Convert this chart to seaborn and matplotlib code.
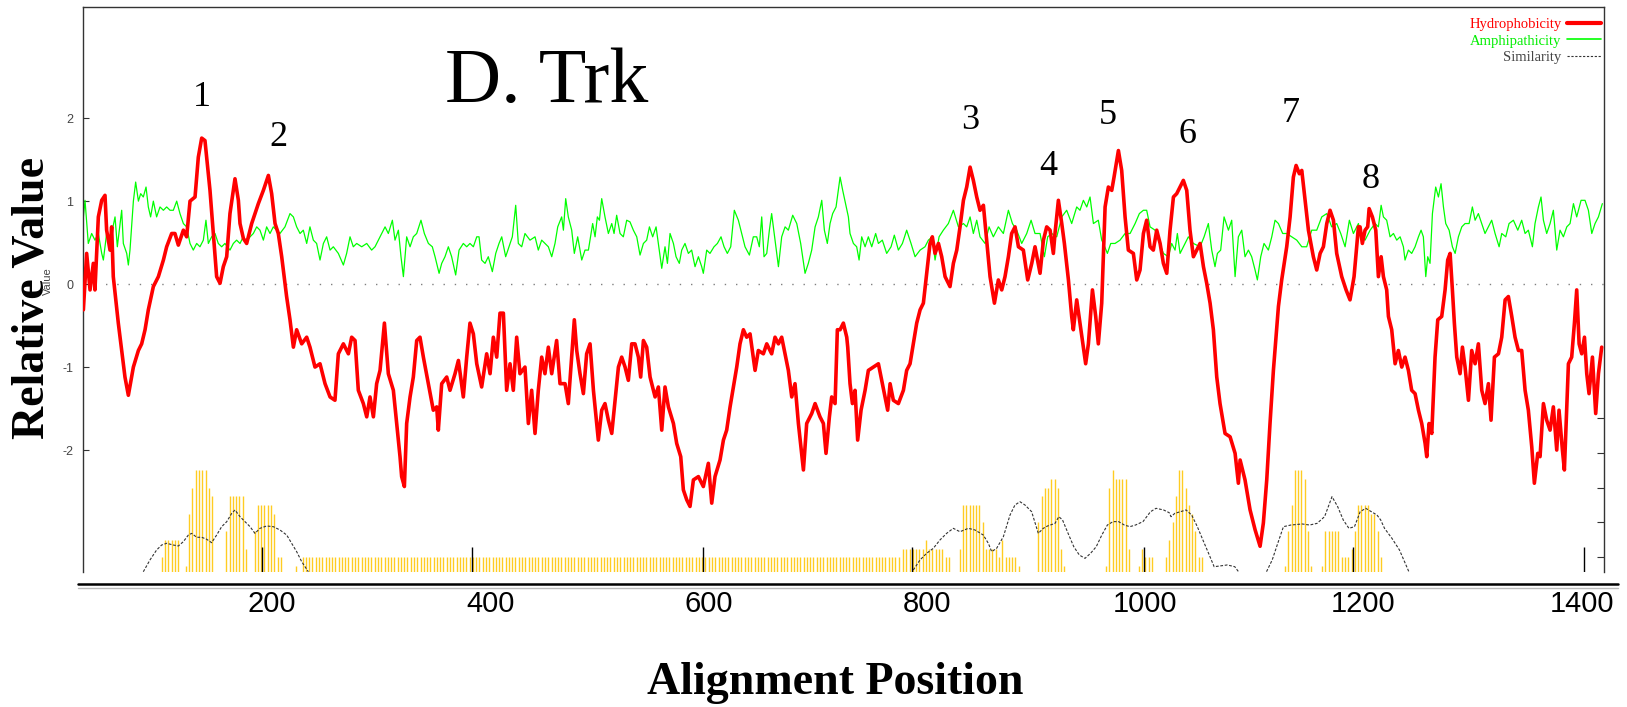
import numpy as np
import pandas as pd
import matplotlib
matplotlib.use("Agg")
import matplotlib.pyplot as plt
import seaborn as sns
from matplotlib.lines import Line2D

sns.set_theme(style="white")
plt.rcParams['font.family'] = ['Liberation Serif', 'DejaVu Serif']
plt.rcParams['axes.unicode_minus'] = False

# ---------------- data ----------------
hyd_x = [27.1, 30.1, 33.2, 36.2, 37.7, 40.8, 43.9, 46.9, 48.4, 51.5, 53.0, 54.5, 59.1, 62.2, 65.2, 68.3, 72.9, 77.5, 80.5, 83.6,
         86.6, 91.2, 95.8, 100.4, 103.4, 108.0, 111.0, 114.1, 118.7, 121.7, 124.8, 129.4, 132.4, 135.5, 138.5, 143.1, 146.2, 149.2, 152.3, 155.3,
         158.4, 161.4, 166.0, 169.1, 170.6, 173.7, 176.7, 181.3, 184.3, 187.4, 192.0, 196.6, 199.6, 202.7, 205.7, 208.8, 213.3, 216.4, 219.5, 222.5,
         227.1, 231.7, 234.7, 239.3, 243.9, 248.5, 253.1, 257.6,
         260.7, 265.3, 269.9, 272.9, 276.0, 279.0, 283.6, 286.7, 289.7, 292.8, 295.8, 298.9, 302.9, 306.5, 311.1, 314.2, 317.2, 318.7, 321.2, 323.3,
         326.4, 329.4, 332.5, 335.5, 338.6, 343.2, 347.7, 350.8, 352.3, 355.4, 360.0, 363.0, 367.6, 370.7, 375.2, 378.3, 381.3, 384.4, 387.5, 392.0,
         396.6, 399.7, 402.7, 405.8, 408.8, 411.9, 414.9, 418.0, 421.0, 424.1, 427.1, 431.7, 434.8, 437.8, 440.9, 443.9, 447.0, 450.0, 453.1, 456.2,
         460.7, 463.8, 468.4, 471.4, 474.5, 476.9, 479.1, 482.1, 485.2, 488.2, 491.3,
         494.4, 496.8, 498.9, 502.0, 505.0, 508.1, 511.2, 514.2, 517.3, 520.3, 523.4, 526.4, 529.5, 532.5, 535.6, 537.7, 540.2, 543.2, 546.3, 550.9,
         553.9, 557.0, 560.0, 563.1, 567.7, 570.7, 574.4, 576.8, 579.9, 582.9, 586.0, 590.6, 595.1, 599.7, 602.8, 605.8, 610.4, 613.5, 616.5, 619.6,
         622.6, 625.7, 628.7, 631.8, 634.8, 637.9, 642.5, 645.5, 650.1, 653.2, 657.7, 660.8, 663.9, 666.9, 670.0, 673.0, 676.1, 679.1, 682.2, 686.8,
         689.8, 694.4, 697.5, 702.0, 705.1, 707.5, 710.6, 712.7, 715.8, 717.9, 720.4, 723.4, 726.5,
         727.4, 729.5, 731.7, 734.1, 736.5, 739.6, 743.3, 746.3, 750.9, 755.5, 759.1, 764.0, 766.2, 769.2, 773.8, 778.4, 781.4, 784.5, 787.5, 790.6,
         793.7, 796.7, 799.8, 802.8, 804.9, 807.4, 810.5, 813.5, 816.6, 821.1, 824.2, 827.3, 830.3, 833.4, 836.4, 839.5, 842.5, 845.6, 848.6, 851.7,
         854.7, 857.8, 861.8, 865.4, 868.5, 871.5, 874.6, 877.6, 880.7, 883.8, 888.3, 892.3, 896.0, 899.0, 903.6, 906.7, 909.7, 912.8, 915.8, 917.3,
         920.4, 923.5, 925.9, 929.6, 932.6, 934.1, 937.2, 940.2, 943.3, 945.4, 947.9, 951.6, 954.6, 957.0, 960.1,
         963.2, 966.2, 969.3, 971.4, 975.4, 978.4, 981.5, 984.5, 989.1, 992.2, 995.2, 998.3, 1001.3, 1004.4, 1007.4, 1010.5, 1013.6, 1016.6, 1019.7, 1022.7,
         1025.8, 1028.8, 1031.9, 1034.9, 1038.0, 1041.0, 1044.1, 1047.2, 1050.2, 1053.3, 1056.3, 1059.4, 1062.4, 1065.5, 1068.5, 1073.1, 1077.7, 1082.3, 1085.3, 1086.9,
         1091.4, 1096.0, 1100.6, 1105.2, 1108.2, 1111.3, 1114.3, 1117.4, 1122.0, 1125.0, 1129.6, 1132.7, 1135.7, 1138.2, 1141.2, 1143.4, 1146.4, 1149.5, 1154.0, 1157.1,
         1160.2, 1163.2, 1166.3, 1169.3, 1172.4, 1175.4, 1180.0, 1184.0, 1187.6, 1191.3, 1195.3,
         1196.8, 1198.9, 1201.4, 1203.8, 1205.1, 1208.1, 1211.2, 1213.6, 1216.1, 1218.2, 1221.2, 1222.8, 1225.8, 1228.9, 1231.9, 1235.0, 1238.0, 1241.1, 1244.1, 1247.2,
         1250.3, 1253.3, 1256.4, 1257.9, 1260.0, 1262.5, 1265.5, 1268.0, 1271.6, 1274.7, 1277.1, 1279.3, 1281.4, 1283.2, 1285.4, 1288.4, 1290.6, 1293.0, 1296.1, 1299.1,
         1302.2, 1305.2, 1308.3, 1311.3, 1314.4, 1316.8, 1319.9, 1323.6, 1326.6, 1329.7, 1332.7, 1335.8, 1338.8, 1341.9, 1344.9, 1348.0, 1351.0, 1354.1, 1356.5, 1359.6,
         1361.7, 1364.8, 1367.8, 1370.9, 1373.9, 1377.0, 1379.1, 1382.2, 1384.0, 1387.7, 1390.7, 1393.2, 1395.3, 1397.5, 1399.9, 1402.4, 1404.5, 1406.6, 1409.7, 1412.7,
         1415.2, 1418.2]
hyd_y = [-0.31, 0.37, -0.07, 0.25, -0.07, 0.81, 1.01, 1.07, 0.65, 0.41, 0.69, 0.09, -0.47, -0.80, -1.12, -1.34, -1.00, -0.80, -0.72, -0.55,
         -0.31, -0.03, 0.09, 0.29, 0.45, 0.61, 0.61, 0.47, 0.65, 0.57, 1.00, 1.05, 1.53, 1.76, 1.73, 1.13, 0.61, 0.09, 0.01, 0.21,
         0.33, 0.85, 1.27, 1.01, 0.73, 0.55, 0.49, 0.73, 0.85, 0.97, 1.13, 1.31, 1.09, 0.73, 0.61, 0.33, -0.15, -0.43, -0.76, -0.55,
         -0.72, -0.64, -0.76, -1.00, -0.96, -1.20, -1.36, -1.40,
         -0.84, -0.72, -0.84, -0.64, -0.68, -1.28, -1.44, -1.60, -1.36, -1.60, -1.20, -1.04, -0.47, -1.08, -1.28, -1.68, -2.08, -2.32, -2.44, -1.68,
         -1.36, -1.12, -0.68, -0.64, -0.88, -1.20, -1.52, -1.48, -1.76, -1.20, -1.12, -1.28, -1.08, -0.92, -1.36, -0.88, -0.47, -0.60, -0.96, -1.24,
         -0.84, -1.08, -0.64, -0.88, -0.35, -0.35, -1.28, -0.96, -1.28, -0.64, -1.08, -1.00, -1.68, -1.28, -1.80, -1.28, -0.88, -1.08, -0.76, -1.08,
         -0.68, -1.20, -1.20, -1.44, -0.88, -0.43, -0.80, -1.08, -1.32, -0.84, -0.72,
         -1.28, -1.60, -1.88, -1.52, -1.44, -1.64, -1.80, -1.40, -1.00, -0.88, -1.00, -1.16, -0.72, -0.72, -0.88, -1.12, -0.68, -0.76, -1.12, -1.36,
         -1.24, -1.76, -1.24, -1.48, -1.68, -1.92, -2.08, -2.48, -2.60, -2.68, -2.36, -2.32, -2.44, -2.16, -2.64, -2.32, -2.12, -1.88, -1.76, -1.48,
         -1.24, -1.00, -0.72, -0.55, -0.64, -0.60, -1.04, -0.80, -0.84, -0.72, -0.84, -0.64, -0.72, -0.64, -0.84, -1.04, -1.36, -1.20, -1.68, -2.24,
         -1.68, -1.56, -1.44, -1.60, -1.68, -2.04, -1.60, -1.36, -1.44, -0.55, -0.55, -0.47, -0.64,
         -0.76, -1.20, -1.44, -1.28, -1.88, -1.52, -1.28, -1.04, -1.00, -0.96, -1.20, -1.52, -1.20, -1.40, -1.44, -1.28, -1.04, -0.96, -0.72, -0.47,
         -0.31, -0.23, 0.13, 0.49, 0.57, 0.37, 0.49, 0.33, 0.09, -0.03, 0.25, 0.41, 0.69, 1.01, 1.17, 1.41, 1.25, 1.05, 0.89, 0.95,
         0.53, 0.09, -0.23, 0.05, -0.07, 0.09, 0.33, 0.61, 0.69, 0.45, 0.41, 0.05, 0.25, 0.45, 0.13, 0.53, 0.69, 0.65, 0.37, 0.61,
         1.01, 0.73, 0.49, 0.05, -0.39, -0.55, -0.19, -0.47, -0.76, -0.96, -0.72, -0.07, -0.39, -0.72, -0.23,
         0.93, 1.17, 1.13, 1.29, 1.61, 1.37, 0.81, 0.41, 0.37, 0.05, 0.17, 0.61, 0.77, 0.45, 0.41, 0.65, 0.49, 0.25, 0.13, 0.65,
         1.05, 1.09, 1.17, 1.25, 1.13, 0.65, 0.33, 0.41, 0.49, 0.21, 0.01, -0.23, -0.55, -1.12, -1.44, -1.80, -1.84, -2.04, -2.40, -2.12,
         -2.36, -2.72, -2.96, -3.16, -2.88, -2.36, -1.68, -1.04, -0.27, 0.05, 0.45, 0.81, 1.29, 1.43, 1.33, 1.37, 1.01, 0.65, 0.33, 0.17,
         0.37, 0.45, 0.73, 0.89, 0.77, 0.37, 0.09, -0.07, -0.19, 0.09, 0.69,
         0.69, 0.49, 0.65, 0.69, 0.91, 0.81, 0.65, 0.09, 0.33, 0.09, -0.07, -0.39, -0.55, -0.96, -0.80, -1.00, -0.88, -1.04, -1.28, -1.32,
         -1.52, -1.68, -1.92, -2.08, -1.68, -1.80, -0.88, -0.43, -0.39, -0.07, 0.29, 0.37, -0.07, -0.47, -0.88, -1.08, -0.76, -1.00, -1.40, -0.80,
         -0.96, -0.72, -1.28, -1.44, -1.20, -1.64, -0.88, -0.84, -0.64, -0.19, -0.15, -0.39, -0.64, -0.80, -0.80, -1.28, -1.52, -1.96, -2.40, -2.04,
         -2.08, -1.44, -1.64, -1.76, -1.48, -2.00, -1.52, -2.00, -2.24, -0.96, -0.88, -0.47, -0.07, -0.72, -0.84, -0.64, -1.08, -1.32, -0.88, -1.56,
         -1.08, -0.76]

amp_x = [27.1, 28.6, 31.6, 34.7, 37.7, 40.8, 43.9, 45.4, 48.4, 51.5, 53.0, 56.1, 58.2, 60.0, 62.2, 63.7, 66.8, 68.3, 69.8, 72.9,
         75.0, 77.5, 79.6, 82.0, 84.5, 86.6, 88.7, 91.2, 94.2, 97.3, 100.4, 103.4, 106.5, 109.5, 112.6, 115.6, 118.7, 121.7, 124.8, 127.8,
         130.9, 133.9, 137.0, 139.4, 141.6, 144.6, 147.7, 150.7, 153.8, 156.8, 161.4, 164.5, 167.5, 170.6, 173.6, 176.7, 179.8, 182.8, 185.9, 188.9,
         192.0, 195.0, 198.1, 201.1, 204.2, 207.2, 211.8, 216.4, 219.5, 222.5, 225.6, 228.6, 231.7, 234.7, 237.8, 240.8, 243.9, 247.0, 250.0, 253.1,
         256.1,
         260.7, 265.3, 268.3, 271.4, 274.4, 277.5, 282.1, 286.7, 291.2, 294.3, 298.9, 303.5, 306.5, 310.2, 312.6, 315.7, 318.1, 320.3, 323.3, 326.4,
         329.4, 332.5, 336.4, 339.5, 343.2, 346.8, 349.3, 353.0, 355.4, 358.4, 361.5, 364.5, 368.2, 371.3, 375.2, 378.3, 381.3, 384.4, 387.5, 389.6,
         392.0, 395.1, 398.1, 401.8, 404.9, 407.9, 410.4, 414.0, 417.1, 420.1, 423.2, 425.6, 428.7, 431.7, 436.3, 440.9, 443.9, 447.0, 450.1, 453.1,
         456.2, 459.2, 461.7, 465.3, 466.9, 469.0, 471.4, 474.5, 476.9, 480.0, 483.7, 486.7, 489.8, 492.8,
         493.7, 495.9, 498.0, 499.9, 502.0, 505.0, 508.1, 511.2, 513.3, 515.7, 518.8, 521.8, 524.9, 527.9, 531.0, 534.1, 537.1, 540.2, 543.2, 545.7,
         548.7, 551.8, 553.9, 557.0, 560.0, 562.2, 564.6, 567.7, 570.1, 573.1, 575.3, 578.3, 581.4, 584.4, 587.5, 590.6, 593.6, 595.1, 598.2, 601.2,
         604.9, 608.0, 611.3, 614.1, 617.1, 620.2, 623.5, 627.2, 630.3, 633.3, 637.3, 640.9, 644.0, 646.4, 648.6, 650.7, 653.2, 655.6, 657.7, 660.8,
         663.9, 666.9, 670.0, 673.0, 677.0, 680.7, 684.3, 688.3, 691.3, 694.4, 697.5, 700.5, 703.6, 706.0, 708.7, 711.2, 713.6, 716.7, 718.8, 720.4,
         722.8, 724.9, 728.0,
         729.5, 732.6, 735.6, 737.8, 740.2, 743.3, 746.3, 749.4, 753.0, 755.5, 759.1, 763.1, 767.1, 770.1, 773.8, 777.5, 781.4, 785.4, 789.1, 793.7,
         798.2, 801.3, 804.9, 807.4, 811.1, 815.0, 819.6, 824.2, 828.8, 833.4, 836.4, 839.5, 842.5, 845.6, 848.6, 853.2, 856.9, 860.8, 865.4, 870.0,
         874.6, 878.3, 882.2, 886.8, 891.4, 895.4, 899.0, 903.6, 907.6, 910.6, 914.3, 918.9, 923.5, 928.0, 932.6, 937.2, 940.2, 943.3, 946.4, 949.4,
         952.5, 957.0, 960.1,
         961.6, 965.3, 968.4, 972.3, 976.9, 981.5, 986.1, 990.7, 994.6, 998.3, 1001.3, 1004.4, 1009.0, 1012.0, 1016.6, 1021.2, 1024.2, 1027.3, 1029.4, 1031.9,
         1036.5, 1039.5, 1044.1, 1050.2, 1053.9, 1057.8, 1060.9, 1063.9, 1066.1, 1069.1, 1072.2, 1076.2, 1079.2, 1082.3, 1085.3, 1088.4, 1091.4, 1094.5, 1097.5, 1100.6,
         1102.7, 1105.8, 1108.8, 1112.8, 1115.9, 1118.9, 1122.0, 1125.9, 1129.6, 1134.2, 1138.8, 1143.4, 1147.9, 1152.5, 1157.1, 1161.7, 1166.3, 1170.8, 1175.4, 1179.1,
         1183.1, 1187.0, 1190.7, 1195.3,
         1196.8, 1201.4, 1206.0, 1210.6, 1213.6, 1216.1, 1218.2, 1221.2, 1224.3, 1227.4, 1230.4, 1233.5, 1236.5, 1238.0, 1241.1, 1244.1, 1247.2, 1250.3, 1252.7, 1254.8,
         1257.0, 1258.8, 1260.9, 1263.1, 1266.1, 1268.6, 1271.0, 1273.2, 1275.3, 1278.4, 1281.4, 1283.9, 1286.9, 1290.0, 1293.0, 1296.7, 1299.7, 1302.2, 1305.2, 1308.3,
         1311.3, 1314.4, 1317.4, 1320.5, 1324.2, 1326.6, 1330.3, 1333.3, 1337.3, 1341.3, 1344.9, 1348.0, 1351.0, 1354.7, 1357.1, 1360.2, 1362.6, 1364.8, 1367.8, 1370.9,
         1373.9, 1377.0, 1380.0, 1383.1, 1386.2, 1389.2, 1392.3, 1395.3, 1399.3, 1402.9, 1406.0, 1409.1, 1412.1, 1415.2, 1418.8]
amp_y = [0.81, 1.01, 0.49, 0.61, 0.53, 0.61, 0.37, 0.29, 0.61, 0.57, 0.61, 0.81, 0.45, 0.65, 0.89, 0.49, 0.37, 0.23, 0.41, 1.00,
         1.23, 1.00, 1.09, 1.05, 1.17, 0.93, 0.81, 1.00, 0.81, 0.93, 0.89, 0.93, 0.89, 0.89, 1.00, 0.85, 0.73, 0.69, 0.49, 0.41,
         0.49, 0.45, 0.53, 0.77, 0.49, 0.57, 0.61, 0.49, 0.45, 0.49, 0.41, 0.49, 0.53, 0.49, 0.57, 0.51, 0.57, 0.61, 0.69, 0.65,
         0.53, 0.69, 0.61, 0.69, 0.65, 0.61, 0.69, 0.85, 0.81, 0.69, 0.61, 0.65, 0.49, 0.69, 0.53, 0.49, 0.29, 0.49, 0.57, 0.41,
         0.45,
         0.37, 0.23, 0.37, 0.57, 0.45, 0.49, 0.45, 0.49, 0.41, 0.45, 0.57, 0.69, 0.61, 0.77, 0.53, 0.65, 0.33, 0.09, 0.57, 0.45,
         0.57, 0.61, 0.77, 0.61, 0.49, 0.45, 0.33, 0.13, 0.25, 0.33, 0.45, 0.33, 0.11, 0.41, 0.49, 0.45, 0.49, 0.45, 0.57, 0.57,
         0.29, 0.25, 0.33, 0.15, 0.37, 0.49, 0.57, 0.33, 0.45, 0.57, 0.95, 0.49, 0.45, 0.61, 0.53, 0.57, 0.41, 0.53, 0.49, 0.45,
         0.33, 0.49, 0.69, 0.81, 0.65, 1.03, 0.81, 0.65, 0.37, 0.57, 0.29, 0.41, 0.41, 0.65,
         0.73, 0.57, 0.81, 0.77, 1.03, 0.81, 0.61, 0.73, 0.61, 0.83, 0.61, 0.57, 0.77, 0.75, 0.65, 0.57, 0.35, 0.49, 0.53, 0.69,
         0.57, 0.69, 0.49, 0.19, 0.45, 0.25, 0.61, 0.49, 0.33, 0.25, 0.41, 0.49, 0.37, 0.41, 0.21, 0.33, 0.21, 0.13, 0.41, 0.37,
         0.45, 0.49, 0.57, 0.45, 0.37, 0.45, 0.89, 0.77, 0.61, 0.45, 0.35, 0.57, 0.57, 0.45, 0.81, 0.33, 0.37, 0.65, 0.85, 0.53,
         0.21, 0.57, 0.69, 0.65, 0.83, 0.73, 0.49, 0.13, 0.25, 0.41, 0.69, 0.81, 1.01, 0.65, 0.49, 0.73, 0.85, 0.93, 1.13, 1.29,
         1.13, 1.00, 0.81,
         0.61, 0.49, 0.45, 0.29, 0.57, 0.45, 0.57, 0.45, 0.61, 0.49, 0.53, 0.37, 0.45, 0.59, 0.41, 0.49, 0.65, 0.49, 0.33, 0.41,
         0.45, 0.53, 0.57, 0.29, 0.57, 0.65, 0.73, 0.89, 0.69, 0.73, 0.69, 0.81, 0.61, 0.77, 0.57, 0.49, 0.69, 0.57, 0.69, 0.61,
         0.89, 0.73, 0.65, 0.49, 0.61, 0.77, 0.61, 0.61, 0.33, 0.57, 0.61, 0.57, 0.81, 0.89, 0.73, 0.93, 0.89, 1.01, 0.93, 1.05,
         0.73, 0.77, 0.53,
         0.49, 0.37, 0.49, 0.49, 0.53, 0.61, 0.61, 0.73, 0.85, 0.89, 0.89, 0.69, 0.65, 0.53, 0.37, 0.33, 0.49, 0.41, 0.61, 0.37,
         0.49, 0.57, 0.49, 0.45, 0.57, 0.73, 0.41, 0.21, 0.37, 0.41, 0.81, 0.65, 0.77, 0.09, 0.57, 0.65, 0.33, 0.41, 0.33, 0.17,
         0.05, 0.33, 0.49, 0.41, 0.57, 0.77, 0.73, 0.61, 0.61, 0.57, 0.53, 0.45, 0.45, 0.65, 0.65, 0.81, 0.85, 0.69, 0.73, 0.61,
         0.45, 0.77, 0.61, 0.73,
         0.61, 0.53, 0.65, 0.73, 0.69, 0.95, 0.81, 0.77, 0.57, 0.61, 0.53, 0.57, 0.45, 0.29, 0.41, 0.37, 0.45, 0.57, 0.65, 0.57,
         0.09, 0.33, 0.25, 0.85, 1.17, 1.05, 1.21, 0.93, 0.73, 0.65, 0.45, 0.37, 0.57, 0.69, 0.73, 0.73, 0.93, 0.77, 0.85, 0.73,
         0.61, 0.69, 0.77, 0.61, 0.45, 0.61, 0.57, 0.73, 0.77, 0.65, 0.77, 0.61, 0.65, 0.45, 0.73, 0.93, 1.05, 0.77, 0.61, 0.73,
         0.89, 0.41, 0.65, 0.57, 0.69, 0.73, 0.97, 0.81, 1.01, 1.01, 0.89, 0.61, 0.73, 0.81, 0.97]

# similarity (own scale, three segments)
sim1_x = [82.0, 88.1, 94.2, 98.8, 103.4, 109.5, 114.1, 118.7, 123.3, 126.3, 130.9, 135.5, 140.1, 144.6, 149.2, 153.8,
          158.4, 163.0, 166.0, 170.6, 175.2, 179.8, 184.3, 188.9, 195.0, 201.1, 207.2, 213.4, 217.9, 222.5, 227.1, 233.2]
sim1_v = [0.34, 1.69, 2.84, 3.41, 3.61, 3.41, 3.30, 3.80, 4.56, 4.75, 4.30, 4.30, 4.07, 3.68, 4.56, 5.52,
          6.09, 7.05, 7.44, 6.67, 6.09, 5.52, 4.75, 5.33, 5.60, 5.52, 5.14, 4.56, 3.61, 2.65, 1.50, 0.34]
sim2_x = [787.5, 793.6, 799.7, 805.8, 811.9, 818.0, 824.1, 830.2, 837.9, 844.0, 851.6, 856.2, 859.3, 863.8, 870.0, 876.1,
          880.6, 885.2, 889.8, 895.9, 902.0, 906.6, 910.5, 917.3, 920.8, 924.2, 929.3, 934.5, 939.6, 944.8, 949.9, 955.1,
          960.2, 965.3, 970.5, 975.6, 980.8, 985.9, 991.1, 997.9, 1004.8, 1009.9, 1016.8, 1021.9, 1023.6, 1027.1, 1032.2,
          1037.4, 1042.5, 1047.7, 1052.8, 1058.0, 1063.1, 1068.2, 1075.1, 1082.0, 1085.4]
sim2_v = [0.54, 1.69, 2.46, 3.03, 3.99, 4.75, 5.33, 4.94, 5.33, 5.14, 4.56, 3.61, 2.65, 3.03, 4.37, 6.86,
          8.01, 8.39, 8.01, 7.24, 4.75, 5.33, 5.60, 5.90, 6.67, 6.29, 4.75, 3.22, 2.26, 1.88, 2.46, 3.22,
          4.56, 5.71, 6.10, 6.10, 5.71, 5.52, 5.71, 6.10, 7.24, 7.63, 7.44, 7.13, 6.67, 7.05, 7.24,
          7.44, 6.86, 5.52, 3.99, 2.46, 0.92, 1.00, 1.12, 0.92, 0.35]
sim3_x = [1111.1, 1116.3, 1121.4, 1126.6, 1133.4, 1143.7, 1150.6, 1157.4, 1164.3, 1171.1, 1176.3, 1181.4,
          1186.6, 1191.7, 1196.9, 1202.0, 1207.2, 1212.3, 1215.7, 1219.2, 1226.0, 1232.9, 1241.5]
sim3_v = [0.35, 1.69, 3.61, 5.52, 5.71, 5.83, 5.71, 5.90, 6.67, 8.97, 7.82, 6.29,
          5.33, 5.52, 7.24, 7.63, 7.24, 6.86, 6.29, 5.33, 4.18, 2.84, 0.35]
# tick marks of the similarity panel's own position axis
sim_axis_ticks = [191, 383, 595, 786, 999, 1190, 1402]

# conservation bars: runs of (start, end, level), one bar every 3 positions
bar_start = [99, 102, 121, 124, 127, 130, 142, 145, 158, 161, 176, 184, 187, 202, 205, 222, 228,
             778, 799, 802, 817, 830, 833, 851, 854, 866, 869, 872, 884,
             902, 905, 908, 914, 920, 923, 926, 964, 967, 970, 973, 985, 994, 997, 1000,
             1019, 1022, 1025, 1028, 1031, 1037, 1040, 1043, 1046, 1049,
             1128, 1131, 1134, 1137, 1146, 1149, 1152, 1162, 1165, 1180, 1189, 1192, 1195, 1207, 1213, 1216]
bar_end = [99, 114, 121, 124, 127, 139, 142, 145, 158, 173, 176, 184, 199, 202, 208, 222, 775,
           796, 799, 814, 820, 830, 848, 851, 863, 866, 869, 881, 884,
           902, 905, 911, 917, 920, 923, 926, 964, 967, 970, 982, 985, 994, 997, 1006,
           1019, 1022, 1025, 1028, 1034, 1037, 1040, 1043, 1046, 1052,
           1128, 1131, 1134, 1143, 1146, 1149, 1152, 1162, 1177, 1186, 1189, 1192, 1204, 1210, 1213, 1216]
bar_level = [2, 4, 1, 7, 10, 12, 10, 9, 5, 9, 3, 5, 8, 7, 2, 1, 2,
             3, 4, 3, 2, 3, 8, 6, 3, 2, 4, 2, 1,
             6, 9, 10, 11, 10, 3, 1, 1, 10, 12, 11, 3, 1, 3, 2,
             2, 4, 6, 9, 12, 10, 8, 7, 5, 2,
             1, 5, 8, 12, 11, 5, 1, 1, 5, 2, 3, 5, 8, 7, 5, 2]
bar_step = 3

peak_labels = ['1', '2', '3', '4', '5', '6', '7', '8']
peak_x = [135.8, 205.4, 839.5, 911.0, 965.9, 1038.3, 1133.6, 1206.9]
peak_y = [2.15, 1.66, 1.87, 1.31, 1.93, 1.70, 1.95, 1.16]

xtick_vals = [200, 400, 600, 800, 1000, 1200, 1400]
ytick_vals = [-2, -1, 0, 1, 2]
sim_tick_vals = [2, 6, 10, 14, 18]

legend_labels = ['Hydrophobicity', 'Amphipathicity', 'Similarity']

# ---------------- figure ----------------
W, H = 1627, 707
fig = plt.figure(figsize=(W / 100, H / 100), dpi=100)
fig.patch.set_facecolor('white')
ax = fig.add_axes([83 / W, 1 - 572 / H, (1604 - 83) / W, (572 - 7) / H])
ax.set_facecolor('white')
ax.set_xlim(26.75, 1420.3)
ax.set_ylim(-3.47, 3.34)

ax.axhline(0, color='#808080', lw=1.0, ls=(0, (1, 7.1)), zorder=1)

df_amp = pd.DataFrame({'pos': amp_x, 'val': amp_y})
df_hyd = pd.DataFrame({'pos': hyd_x, 'val': hyd_y})
sns.lineplot(data=df_amp, x='pos', y='val', sort=False, estimator=None, color='#00FF00', lw=0.9, ax=ax, zorder=2)
sns.lineplot(data=df_hyd, x='pos', y='val', sort=False, estimator=None, color='#FF0000', lw=2.6, ax=ax, zorder=3)

for lab, px, py in zip(peak_labels, peak_x, peak_y):
    ax.text(px, py, lab, fontsize=26, ha='center', va='baseline', color='black')
ax.text(451.4, 2.19, 'D. Trk', fontsize=56, ha='center', va='baseline', color='black')

ax.set_xlabel('')
ax.set_ylabel('')
ax.set_xticks(xtick_vals)
ax.set_xticklabels([str(v) for v in xtick_vals])
ax.set_yticks(ytick_vals)
ax.set_yticklabels([str(v) for v in ytick_vals])
ax.tick_params(axis='x', direction='in', length=0, pad=13,
               labelsize=21, labelcolor='black', bottom=True, top=False)
ax.tick_params(axis='y', direction='in', length=4.3, width=0.8, color='#333333', pad=7,
               labelsize=9, labelcolor='#444444', left=True, right=False)
for lbl in ax.get_xticklabels():
    lbl.set_family(['Liberation Sans', 'DejaVu Sans'])
for lbl in ax.get_yticklabels():
    lbl.set_family(['Liberation Sans', 'DejaVu Sans'])

for side in ['left', 'right', 'top']:
    ax.spines[side].set_visible(True)
    ax.spines[side].set_color('#333333')
    ax.spines[side].set_linewidth(1.0)
ax.spines['bottom'].set_visible(False)

# double rule under the plot
ax.plot([-0.003, 1.009], [-0.0212, -0.0212], transform=ax.transAxes, color='black', lw=1.8, clip_on=False)
ax.plot([-0.003, 1.009], [-0.0290, -0.0290], transform=ax.transAxes, color='#bbbbbb', lw=1.0, clip_on=False)

# secondary scale: conservation bars + similarity
ax2 = ax.twinx()
ax2.set_ylim(0.31, 65.25)
bar_x, bar_v = [], []
for s, e, lv in zip(bar_start, bar_end, bar_level):
    for xx in np.arange(s, e + 0.5, bar_step):
        bar_x.append(xx)
        bar_v.append(lv)
ax2.vlines(bar_x, 0, bar_v, color='#FFCC22', lw=1.0, zorder=1)
for sx, sv in [(sim1_x, sim1_v), (sim2_x, sim2_v), (sim3_x, sim3_v)]:
    ax2.plot(sx, sv, color='#333333', lw=0.8, ls=(0, (2.5, 1.5)), zorder=2)
ax2.vlines(sim_axis_ticks, 0, 0.044, transform=ax2.get_xaxis_transform(), color='black', lw=1.0, zorder=3)
ax2.set_yticks(sim_tick_vals)
ax2.set_yticklabels([])
ax2.tick_params(axis='y', direction='in', length=5, width=0.8, color='#333333', right=True, left=False)
for side in ax2.spines:
    ax2.spines[side].set_visible(False)
ax2.grid(False)
ax.grid(False)

handles = [Line2D([], [], color='#FF0000', lw=3.0),
           Line2D([], [], color='#00FF00', lw=1.2),
           Line2D([], [], color='#333333', lw=0.8, ls=(0, (2, 1.5)))]
leg = ax2.legend(handles, legend_labels, loc='upper right', bbox_to_anchor=(0.998, 0.981),
                 frameon=False, markerfirst=False, fontsize=10.5, handlelength=2.3,
                 handletextpad=0.4, labelspacing=0.23, borderaxespad=0, borderpad=0)
for txt, col in zip(leg.get_texts(), ['#FF0000', '#00EE00', '#444444']):
    txt.set_color(col)

fig.text(33 / W, 1 - 298 / H, 'Relative Value', rotation=90, fontsize=33, fontweight='bold',
         ha='center', va='center', color='black')
fig.text(48 / W, 1 - 281 / H, 'Value', rotation=90, fontsize=8, ha='center', va='center',
         color='#444444', family=['Liberation Sans', 'DejaVu Sans'])
fig.text(835 / W, 1 - 683 / H, 'Alignment Position', fontsize=33, fontweight='bold',
         ha='center', va='center', color='black')

fig.savefig('out.png', dpi=100, facecolor='white')
